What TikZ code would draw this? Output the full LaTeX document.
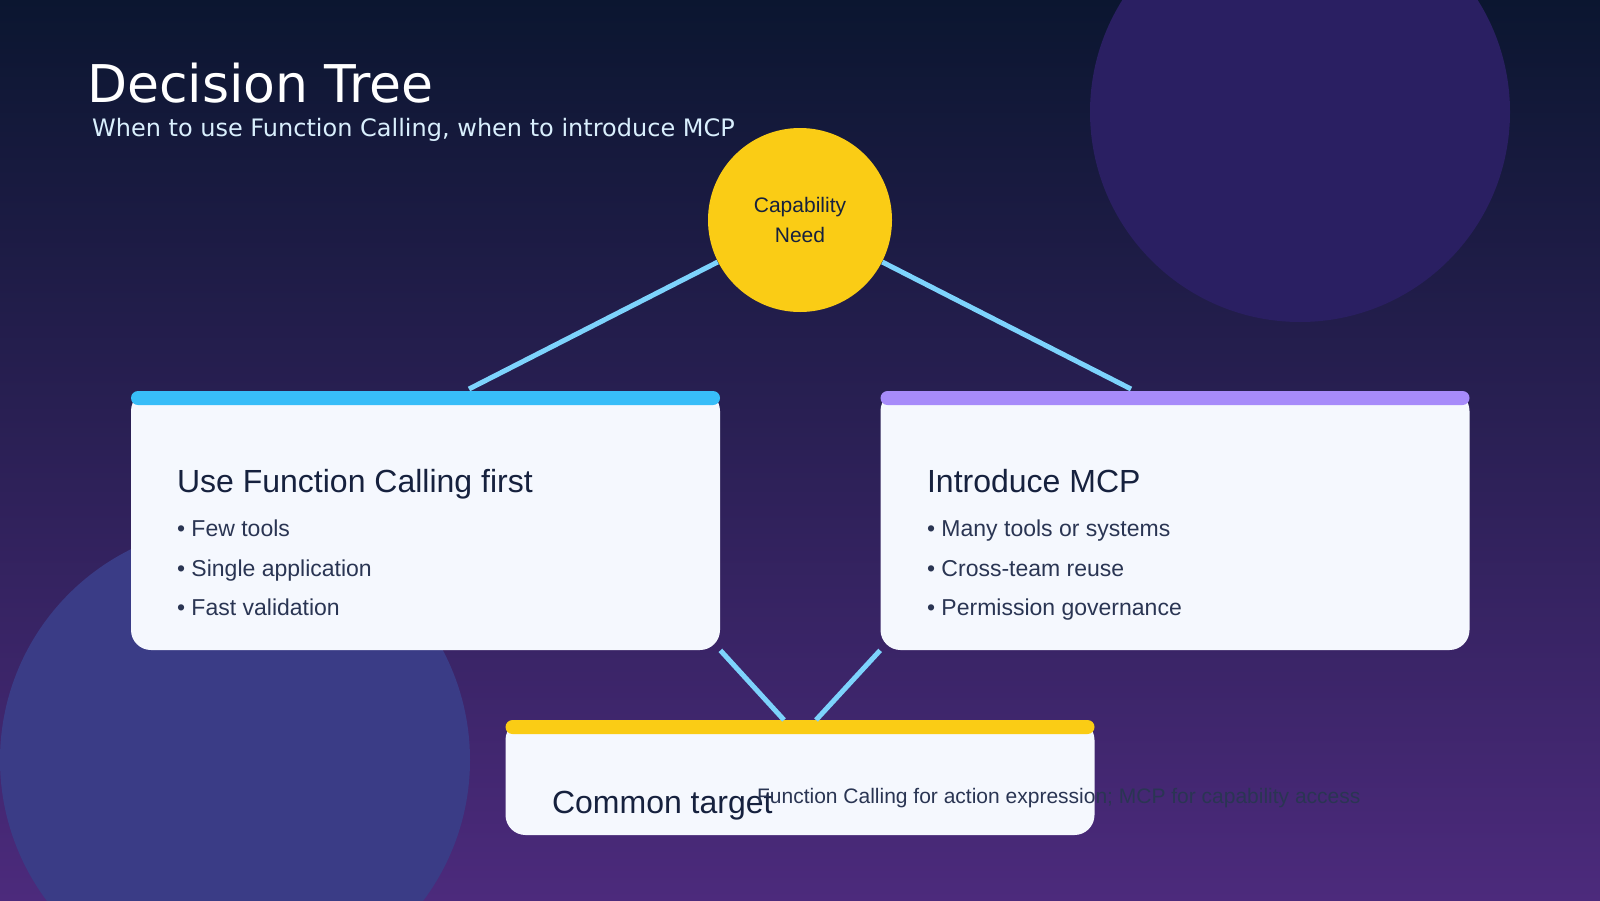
\documentclass[tikz,border=0pt]{standalone}
\usepackage{fontspec}
\setmainfont{Liberation Sans}
\newfontfamily\dejavu{DejaVu Sans}
\usetikzlibrary{positioning}
\definecolor{bgtop}{HTML}{0B1630}
\definecolor{bgbot}{HTML}{4C2A7C}
\definecolor{orbA}{HTML}{2A1F62}
\definecolor{orbB}{HTML}{3A3C86}
\definecolor{cardbg}{HTML}{F5F8FE}
\definecolor{inkdark}{HTML}{16213E}
\definecolor{inkmid}{HTML}{2A3553}
\definecolor{sky}{HTML}{38BDF8}
\definecolor{lilac}{HTML}{A78BFA}
\definecolor{amber}{HTML}{FACC15}
\definecolor{wire}{HTML}{7DD3FC}
\tikzset{
  card/.style={fill=cardbg, rounded corners=10pt, minimum width=294.5pt, inner sep=0pt},
  bar/.style={rounded corners=3.5pt, minimum width=294.5pt, minimum height=7pt, inner sep=0pt},
  wire/.style={draw=wire, line width=2.5pt},
  head/.style={anchor=base west, text=inkdark, font=\fontsize{16}{19}\selectfont},
  item/.style={anchor=base west, text=inkmid, font=\fontsize{11.5}{14}\selectfont}
}
\begin{document}
\begin{tikzpicture}[x=0.5pt,y=-0.5pt]
\useasboundingbox (0,0) rectangle (1600,900);
\shade[top color=bgtop, bottom color=bgbot] (0,0) rectangle (1600,900);
\begin{scope}
\clip (0,0) rectangle (1600,900);
\fill[orbA] (1300,112) circle (210);
\fill[orbB] (235,760) circle (235);
\end{scope}
% title
\node[anchor=base west, text=white, font=\dejavu\fontsize{26}{30}\selectfont] (title) at (80,102) {Decision Tree};
\node[anchor=base west, text=cardbg!85!sky, font=\dejavu\fontsize{12}{14}\selectfont] (subtitle) at (85,136) {When to use Function Calling, when to introduce MCP};
% root
\node[circle, fill=amber, minimum size=92pt, inner sep=0pt, align=center, text=inkdark, font=\fontsize{10.5}{15}\selectfont] (cap) at (800,220) {Capability\\Need};
% cards
\node[card, minimum height=129.5pt] (fc) at (425.5,520.5) {};
\node[bar, fill=sky] (fcbar) at (425.5,398) {};
\node[card, minimum height=129.5pt] (mcp) at (1175,520.5) {};
\node[bar, fill=lilac] (mcpbar) at (1175,398) {};
\node[card, minimum height=57.5pt] (goal) at (800,777.5) {};
\node[bar, fill=amber] (goalbar) at (800,727) {};
% connectors
\coordinate (fctop) at (469,389);
\coordinate (mcptop) at (1131,389);
\coordinate (goaltopL) at (784,720);
\coordinate (goaltopR) at (816,720);
\draw[wire] (cap) -- (fctop);
\draw[wire] (cap) -- (mcptop);
\draw[wire] (fc.south east) -- (goaltopL);
\draw[wire] (mcp.south west) -- (goaltopR);
% card texts
\node[head] (fchead) at (170,492) {Use Function Calling first};
\node[item] (fc1) at (170,536) {• Few tools};
\node[item] (fc2) at (170,576) {• Single application};
\node[item] (fc3) at (170,615) {• Fast validation};
\node[head] (mcphead) at (920,492) {Introduce MCP};
\node[item] (mcp1) at (920,536) {• Many tools or systems};
\node[item] (mcp2) at (920,576) {• Cross-team reuse};
\node[item] (mcp3) at (920,615) {• Permission governance};
\node[head] (goalhead) at (545,813) {Common target};
\node[anchor=base west, text=inkmid, font=\fontsize{10.5}{13}\selectfont] (goaltext) at (750,803) {Function Calling for action expression; MCP for capability access};
\end{tikzpicture}
\end{document}
